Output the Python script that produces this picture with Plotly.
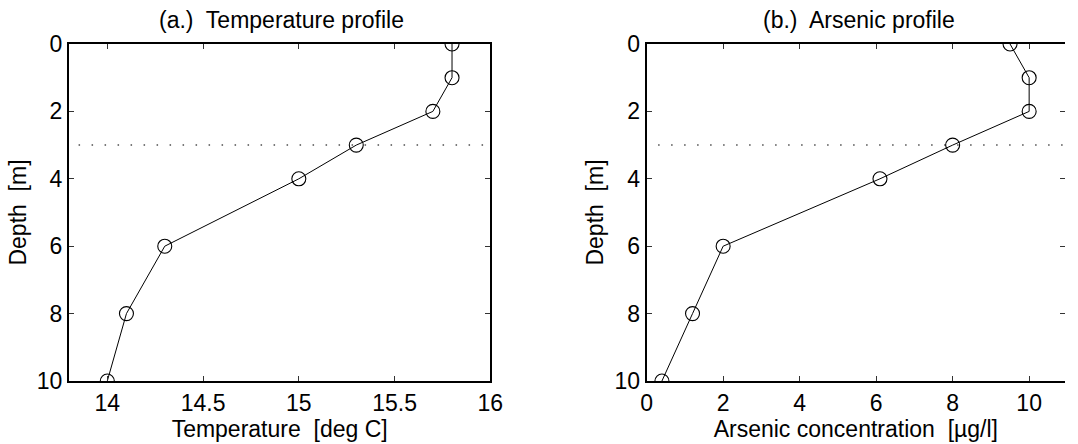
import plotly.graph_objects as go

# ---- data ----
depth = [0, 1, 2, 3, 4, 6, 8, 10]
temperature = [15.8, 15.8, 15.7, 15.3, 15.0, 14.3, 14.1, 14.0]
arsenic = [9.5, 10.0, 10.0, 8.0, 6.1, 2.0, 1.2, 0.4]
ref_depth = 3
ref_temp_x = [13.85, 16.0]
ref_as_x = [0.3, 11.0]
temp_ticks = [14, 14.5, 15, 15.5, 16]
temp_ticktext = ["14", "14.5", "15", "15.5", "16"]
as_ticks = [0, 2, 4, 6, 8, 10]
depth_ticks = [0, 2, 4, 6, 8, 10]

FONT = "Liberation Sans, Arial, Helvetica, sans-serif"
FS = 23

W, H = 1078, 444
L_LEFT, L_RIGHT = 69.3, 496
R_LEFT = 654.3
PX_PER_UNIT_AS = 38.74          # right panel scale (0 -> 654.3, 10 -> 1041.7)
R_FULL_RIGHT = R_LEFT + 11 * PX_PER_UNIT_AS   # panel edge lies just outside the window
TOP, BOTTOM = 44, 380.7

ML, MT = L_LEFT, TOP
MR = 0
MB = H - BOTTOM
PW = W - ML - MR
left_dom = [0, (L_RIGHT - ML) / PW]
right_dom = [(R_LEFT - ML) / PW, 1]
as_max = (W - R_LEFT) / PX_PER_UNIT_AS
title_a_x = sum(left_dom) / 2 + 2 / PW
title_b_x = ((R_LEFT + R_FULL_RIGHT) / 2 + 2 - ML) / PW

fig = go.Figure()

line_style = dict(color="black", width=1)
marker_style = dict(symbol="circle-open", size=14, color="black", line=dict(width=1.1, color="black"))
dot_style = dict(color="#4d4d4d", width=1.5, dash="1.5px,11.5px")

# dotted reference lines
fig.add_trace(go.Scatter(x=ref_temp_x, y=[ref_depth, ref_depth], mode="lines",
                         line=dot_style, xaxis="x", yaxis="y", hoverinfo="skip"))
fig.add_trace(go.Scatter(x=ref_as_x, y=[ref_depth, ref_depth], mode="lines",
                         line=dot_style, xaxis="x2", yaxis="y2", hoverinfo="skip"))

fig.add_trace(go.Scatter(x=temperature, y=depth, mode="lines+markers",
                         line=line_style, marker=marker_style, xaxis="x", yaxis="y"))
fig.add_trace(go.Scatter(x=arsenic, y=depth, mode="lines+markers",
                         line=line_style, marker=marker_style, xaxis="x2", yaxis="y2"))
# invisible carrier for the right-hand tick axis of panel (b)
fig.add_trace(go.Scatter(x=arsenic, y=depth, mode="markers", marker=dict(opacity=0),
                         xaxis="x2", yaxis="y3", hoverinfo="skip"))

axis_common = dict(showgrid=False, zeroline=False, showline=True, linecolor="black",
                   linewidth=2, ticks="inside", ticklen=5, tickwidth=1, tickcolor="#333",
                   tickfont=dict(family=FONT, size=FS, color="black"))

fig.update_layout(
    width=W, height=H,
    margin=dict(l=ML, r=MR, t=MT, b=MB, pad=0),
    paper_bgcolor="white", plot_bgcolor="white",
    showlegend=False,
    font=dict(family=FONT, size=FS, color="black"),
    xaxis=dict(domain=left_dom, range=[13.8, 16], tickvals=temp_ticks, ticktext=temp_ticktext,
               mirror="ticks", anchor="y",
               title=dict(text="Temperature\u00a0 [deg C]", font=dict(family=FONT, size=FS), standoff=2),
               **axis_common),
    yaxis=dict(domain=[0, 1], range=[10, 0], tickvals=depth_ticks, mirror="ticks", anchor="x",
               title=dict(text="Depth\u00a0 [m]", font=dict(family=FONT, size=FS), standoff=4),
               **axis_common),
    xaxis2=dict(domain=right_dom, range=[0, as_max], tickvals=as_ticks,
                mirror="ticks", anchor="y2",
                title=dict(text="Arsenic concentration\u00a0 [µg/l]", font=dict(family=FONT, size=FS), standoff=2),
                **axis_common),
    yaxis2=dict(domain=[0, 1], range=[10, 0], tickvals=depth_ticks, mirror=False, anchor="x2",
                title=dict(text="Depth\u00a0 [m]", font=dict(family=FONT, size=FS), standoff=4),
                **axis_common),
    yaxis3=dict(overlaying="y2", anchor="x2", side="right", range=[10, 0], tickvals=depth_ticks,
                showline=False, showgrid=False, zeroline=False, showticklabels=False,
                ticks="inside", ticklen=5, tickwidth=1, tickcolor="#333"),
    annotations=[
        dict(text="(a.)\u00a0 Temperature profile", x=title_a_x, y=1, xref="paper", yref="paper",
             xanchor="center", yanchor="bottom", yshift=9, showarrow=False, font=dict(family=FONT, size=FS)),
        dict(text="(b.)\u00a0 Arsenic profile", x=title_b_x, y=1,
             xref="paper", yref="paper",
             xanchor="center", yanchor="bottom", yshift=9, showarrow=False, font=dict(family=FONT, size=FS)),
    ],
)

fig.write_html("out.html", config={"displayModeBar": False},
               post_script="document.body.style.margin='0';document.body.style.overflow='hidden';")
